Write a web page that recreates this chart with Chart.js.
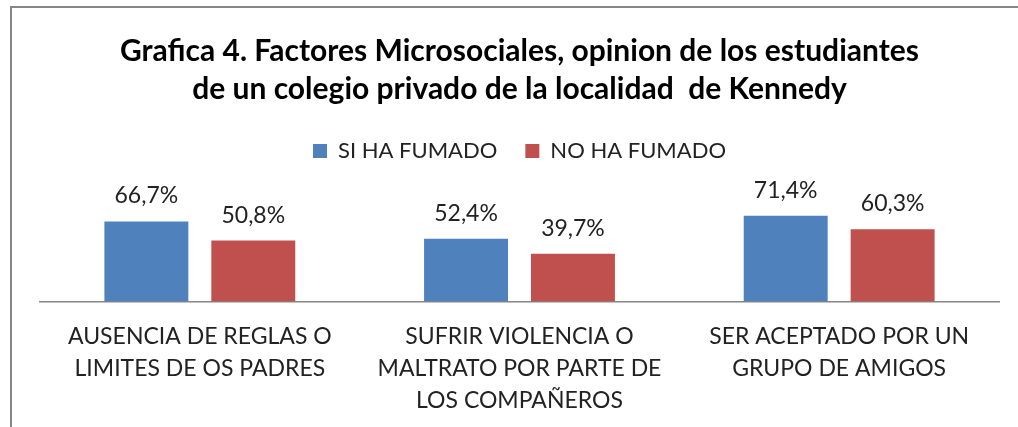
<!DOCTYPE html>
<html>
<head>
<meta charset="utf-8">
<script src="https://cdn.jsdelivr.net/npm/chart.js@4"></script>
<style>
  body { margin: 0; background: #fff; }
  #wrap { position: relative; width: 1018px; height: 427px; overflow: hidden; }
  #frame { position: absolute; left: 10px; top: 6px; width: 1020px; height: 430px;
           border-top: 2px solid #868686; border-left: 2px solid #868686; pointer-events: none; }
  canvas { position: absolute; left: 0; top: 0; }
</style>
</head>
<body>
<div id="wrap">
  <canvas id="grafica4" width="1018" height="427"></canvas>
  <div id="frame"></div>
</div>
<script>
// datos de la grafica 4
const categorias = [
    ['AUSENCIA DE REGLAS O', 'LIMITES DE OS PADRES'],
    ['SUFRIR VIOLENCIA O', 'MALTRATO POR PARTE DE', 'LOS COMPAÑEROS'],
    ['SER ACEPTADO POR UN', 'GRUPO DE AMIGOS']
];
const siHaFumado = [66.7, 52.4, 71.4];
const noHaFumado = [50.8, 39.7, 60.3];
const titulo = [
    'Grafica 4. Factores Microsociales, opinion de los estudiantes',
    'de un colegio privado de la localidad  de Kennedy'
];

// etiquetas de porcentaje encima de cada barra
const etiquetasBarras = {
    id: 'etiquetasBarras',
    afterDatasetsDraw(chart) {
        const ctx = chart.ctx;
        ctx.save();
        ctx.font = '23px Lato';
        ctx.fillStyle = '#222';
        ctx.textAlign = 'center';
        ctx.textBaseline = 'alphabetic';
        chart.data.datasets.forEach((ds, i) => {
            chart.getDatasetMeta(i).data.forEach((bar, j) => {
                const txt = ds.data[j].toFixed(1).replace('.', ',') + '%';
                ctx.fillText(txt, bar.x, bar.y - 18);
            });
        });
        ctx.restore();
    }
};

const ctx = document.getElementById('grafica4').getContext('2d');

new Chart(ctx, {
    type: 'bar',
    data: {
        labels: categorias,
        datasets: [{
            label: 'SI HA FUMADO',
            data: siHaFumado,
            backgroundColor: '#4F81BD',
            categoryPercentage: 0.669,
            barPercentage: 0.785
        }, {
            label: 'NO HA FUMADO',
            data: noHaFumado,
            backgroundColor: '#C0504D',
            categoryPercentage: 0.669,
            barPercentage: 0.785
        }]
    },
    options: {
        responsive: false,
        animation: false,
        layout: {
            padding: { left: 40, right: 19, top: 0, bottom: -9 }
        },
        scales: {
            x: {
                grid: { display: false, drawTicks: false },
                border: { display: true, color: '#868686', width: 1.5 },
                ticks: {
                    color: '#222',
                    font: { family: 'Lato', size: 23, lineHeight: 1.4 },
                    padding: 19,
                    maxRotation: 0,
                    autoSkip: false
                }
            },
            y: {
                display: false,
                min: 0,
                max: 108
            }
        },
        plugins: {
            title: {
                display: true,
                text: titulo,
                color: '#000',
                font: { family: 'Lato', size: 30, weight: 'bold', lineHeight: 1.267 },
                padding: { top: 32, bottom: 4 }
            },
            legend: {
                position: 'top',
                labels: {
                    color: '#222',
                    font: { family: 'Lato', size: 22 },
                    boxWidth: 14,
                    boxHeight: 14,
                    padding: 28
                }
            },
            tooltip: { enabled: false }
        }
    },
    plugins: [etiquetasBarras]
});
</script>
</body>
</html>
